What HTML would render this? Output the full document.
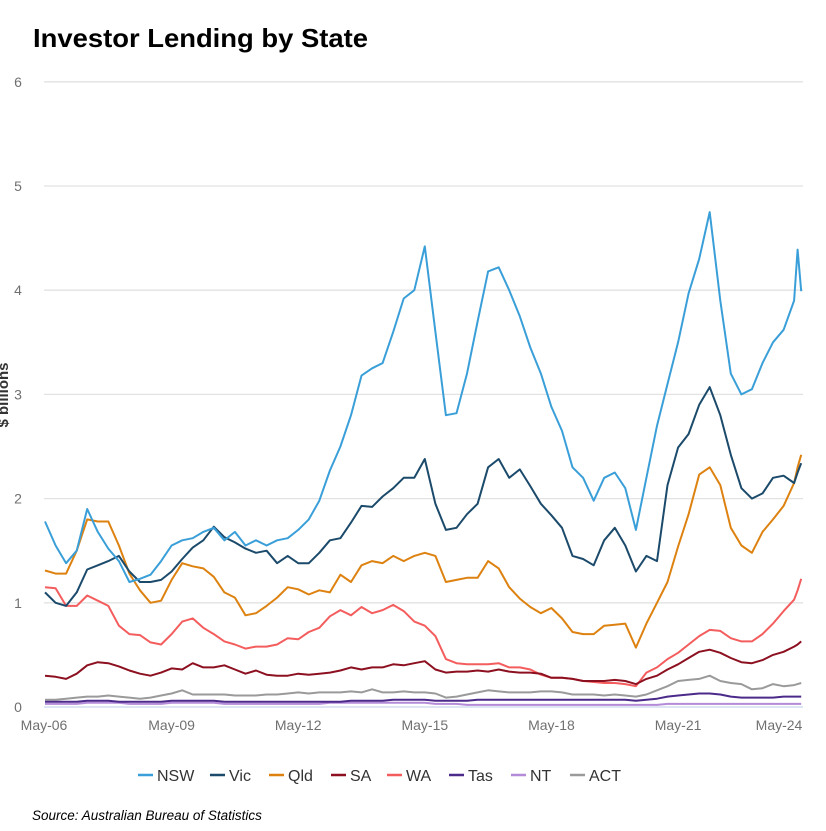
<!DOCTYPE html>
<html><head><meta charset="utf-8"><style>
html,body{margin:0;padding:0;background:#fff;width:826px;height:831px;overflow:hidden}
svg{display:block;font-family:"Liberation Sans",sans-serif}
</style></head><body>
<svg id="chart" width="826" height="831" viewBox="0 0 826 831">
<text x="33" y="47" font-size="26" font-weight="bold" fill="#000" textLength="335" lengthAdjust="spacingAndGlyphs">Investor Lending by State</text>
<g id="grid"></g>
<g id="yticks"></g>
<g id="xticks"></g>
<text transform="translate(8,395) rotate(-90)" text-anchor="middle" font-size="15" font-weight="bold" fill="#333">$ billions</text>
<g id="series"></g>
<g id="legend"></g>
<text x="32" y="820" font-size="13.5" font-style="italic" fill="#000">Source: Australian Bureau of Statistics</text>
</svg>
<script>
// months since May-06
const months = [0,3,6,9,12,15,18,21,24,27,30,33,36,39,42,45,48,51,54,57,60,63,66,69,72,75,78,81,84,87,90,93,96,99,102,105,108,111,114,117,120,123,126,129,132,135,138,141,144,147,150,153,156,159,162,165,168,171,174,177,180,183,186,189,192,195,198,201,204,207,210,213,214,215];
const xTickLabels = ["May-06","May-09","May-12","May-15","May-18","May-21","May-24"];
const xTickMonths = [0,36,72,108,144,180,216];
const yTicks = [0,1,2,3,4,5,6];
const seriesNames = ["NSW","Vic","Qld","SA","WA","Tas","NT","ACT"];
const nsw = [1.78,1.55,1.38,1.5,1.9,1.68,1.52,1.4,1.2,1.23,1.27,1.4,1.55,1.6,1.62,1.68,1.72,1.6,1.68,1.55,1.6,1.55,1.6,1.62,1.7,1.8,1.98,2.27,2.5,2.8,3.18,3.25,3.3,3.6,3.92,4.0,4.42,3.6,2.8,2.82,3.2,3.7,4.18,4.22,4.0,3.75,3.45,3.2,2.88,2.65,2.3,2.2,1.98,2.2,2.25,2.1,1.7,2.2,2.7,3.1,3.5,3.97,4.3,4.75,3.9,3.2,3.0,3.05,3.3,3.5,3.62,3.9,4.39,3.99];
const vic = [1.1,1.0,0.97,1.1,1.32,1.36,1.4,1.45,1.3,1.2,1.2,1.22,1.3,1.42,1.53,1.6,1.73,1.63,1.58,1.52,1.48,1.5,1.38,1.45,1.38,1.38,1.48,1.6,1.62,1.77,1.93,1.92,2.02,2.1,2.2,2.2,2.38,1.95,1.7,1.72,1.85,1.95,2.3,2.38,2.2,2.28,2.12,1.95,1.84,1.72,1.45,1.42,1.36,1.6,1.72,1.55,1.3,1.45,1.4,2.13,2.49,2.62,2.9,3.07,2.8,2.42,2.1,2.0,2.05,2.2,2.22,2.15,2.25,2.34];
const qld = [1.31,1.28,1.28,1.5,1.8,1.78,1.78,1.55,1.28,1.12,1.0,1.02,1.22,1.38,1.35,1.33,1.25,1.1,1.05,0.88,0.9,0.97,1.05,1.15,1.13,1.08,1.12,1.1,1.27,1.2,1.36,1.4,1.38,1.45,1.4,1.45,1.48,1.45,1.2,1.22,1.24,1.24,1.4,1.33,1.15,1.04,0.96,0.9,0.95,0.85,0.72,0.7,0.7,0.78,0.79,0.8,0.57,0.8,1.0,1.2,1.54,1.85,2.23,2.3,2.13,1.72,1.55,1.48,1.68,1.8,1.93,2.15,2.3,2.42];
const sa = [0.3,0.29,0.27,0.32,0.4,0.43,0.42,0.39,0.35,0.32,0.3,0.33,0.37,0.36,0.42,0.38,0.38,0.4,0.36,0.32,0.35,0.31,0.3,0.3,0.32,0.31,0.32,0.33,0.35,0.38,0.36,0.38,0.38,0.41,0.4,0.42,0.44,0.36,0.33,0.34,0.34,0.35,0.34,0.36,0.34,0.33,0.33,0.32,0.28,0.28,0.27,0.25,0.25,0.25,0.26,0.25,0.22,0.27,0.3,0.36,0.41,0.47,0.53,0.55,0.52,0.47,0.43,0.42,0.45,0.5,0.53,0.58,0.6,0.63];
const wa = [1.15,1.14,0.97,0.97,1.07,1.02,0.97,0.78,0.7,0.69,0.62,0.6,0.7,0.82,0.85,0.76,0.7,0.63,0.6,0.56,0.58,0.58,0.6,0.66,0.65,0.72,0.76,0.87,0.93,0.88,0.96,0.9,0.93,0.98,0.92,0.82,0.78,0.68,0.46,0.42,0.41,0.41,0.41,0.42,0.38,0.38,0.36,0.31,0.28,0.28,0.27,0.25,0.24,0.23,0.23,0.22,0.2,0.33,0.38,0.46,0.52,0.6,0.68,0.74,0.73,0.66,0.63,0.63,0.7,0.8,0.92,1.03,1.12,1.23];
const tas = [0.05,0.05,0.05,0.05,0.06,0.06,0.06,0.05,0.05,0.05,0.05,0.05,0.06,0.06,0.06,0.06,0.06,0.05,0.05,0.05,0.05,0.05,0.05,0.05,0.05,0.05,0.05,0.05,0.05,0.06,0.06,0.06,0.06,0.07,0.07,0.07,0.07,0.06,0.06,0.06,0.06,0.07,0.07,0.07,0.07,0.07,0.07,0.07,0.07,0.07,0.07,0.07,0.07,0.07,0.07,0.07,0.06,0.07,0.08,0.1,0.11,0.12,0.13,0.13,0.12,0.1,0.09,0.09,0.09,0.09,0.1,0.1,0.1,0.1];
const nt = [0.03,0.03,0.03,0.03,0.04,0.04,0.04,0.04,0.03,0.03,0.03,0.03,0.04,0.04,0.04,0.04,0.04,0.03,0.03,0.03,0.03,0.03,0.03,0.03,0.03,0.03,0.03,0.04,0.04,0.04,0.04,0.04,0.04,0.04,0.04,0.04,0.04,0.03,0.03,0.03,0.02,0.02,0.02,0.02,0.02,0.02,0.02,0.02,0.02,0.02,0.02,0.02,0.02,0.02,0.02,0.02,0.02,0.02,0.02,0.03,0.03,0.03,0.03,0.03,0.03,0.03,0.03,0.03,0.03,0.03,0.03,0.03,0.03,0.03];
const act = [0.07,0.07,0.08,0.09,0.1,0.1,0.11,0.1,0.09,0.08,0.09,0.11,0.13,0.16,0.12,0.12,0.12,0.12,0.11,0.11,0.11,0.12,0.12,0.13,0.14,0.13,0.14,0.14,0.14,0.15,0.14,0.17,0.14,0.14,0.15,0.14,0.14,0.13,0.09,0.1,0.12,0.14,0.16,0.15,0.14,0.14,0.14,0.15,0.15,0.14,0.12,0.12,0.12,0.11,0.12,0.11,0.1,0.12,0.16,0.2,0.25,0.26,0.27,0.3,0.25,0.23,0.22,0.17,0.18,0.22,0.2,0.21,0.22,0.23];
const seriesData = [nsw,vic,qld,sa,wa,tas,nt,act];
const colors = ["#3a9fd8","#1b4a6b","#dd8210","#8c1020","#f45d5d","#4b2a8a","#b48bd8","#9a9a9a"];

const X0 = 45, MPX = 3.517, Y0 = 707, UPX = 104.2;
const xS = m => X0 + m * MPX;
const yS = v => Y0 - v * UPX;
const NS = "http://www.w3.org/2000/svg";
function mk(tag, attrs, parent){const e=document.createElementNS(NS,tag);for(const k in attrs)e.setAttribute(k,attrs[k]);parent.appendChild(e);return e;}

const grid = document.getElementById('grid');
const yt = document.getElementById('yticks');
yTicks.forEach(v => {
  const l = mk('line',{x1:44,x2:803,y1:yS(v),y2:yS(v),stroke: v===0?'#c9d6ee':'#e2e2e2','stroke-width':1.3},grid);
  
  
  const t = mk('text',{x:18,y:yS(v)+5,'text-anchor':'middle','font-size':14,fill:'#707070'},yt);
  t.textContent = v;
  
  
});
const xt = document.getElementById('xticks');
xTickLabels.forEach((lab,i) => {
  let x = xS(xTickMonths[i]);
  if (i===0) { x = 44; }
  if (i===xTickLabels.length-1) { x = 779; }
  const t = mk('text',{x:x,y:730,'text-anchor':'middle','font-size':14,fill:'#707070'},xt);
  t.textContent = lab;
  
  
});
const sg = document.getElementById('series');
for (let s = seriesData.length-1; s >= 0; s--) {
  const d = seriesData[s].map((v,i)=>(i?'L':'M')+xS(months[i]).toFixed(1)+' '+yS(v).toFixed(1)).join(' ');
  const p = mk('path',{d:d,fill:'none',stroke:colors[s],'stroke-width':2,'stroke-linejoin':'round'},sg);
  
  
}
const lg = document.getElementById('legend');
const legX = [138,210,269,331,387,449,511,570];
seriesNames.forEach((n,i) => {
  const g = mk('g',{},lg);
  
  
  mk('line',{x1:legX[i],x2:legX[i]+15,y1:775,y2:775,stroke:colors[i],'stroke-width':2.5},g);
  const t = mk('text',{x:legX[i]+19,y:781,'font-size':16,fill:'#333'},g);
  t.textContent = n;
});
</script>
</body></html>
